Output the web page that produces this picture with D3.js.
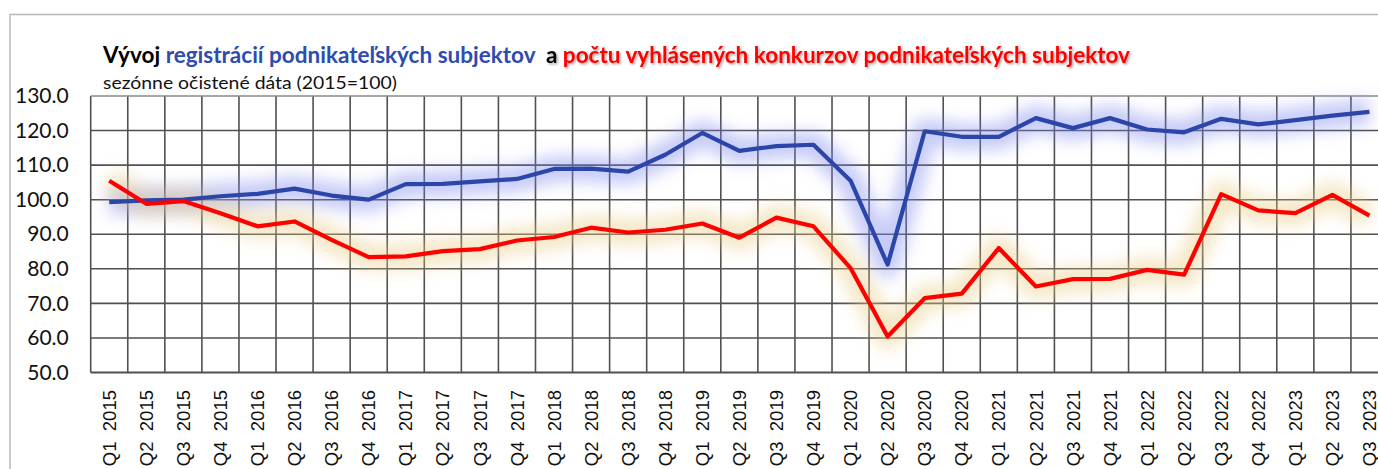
<!DOCTYPE html>
<html>
<head>
<meta charset="utf-8">
<script src="https://cdn.jsdelivr.net/npm/d3@7"></script>
<style>
  html, body { margin: 0; padding: 0; background: #fff; }
  svg { display: block; }
</style>
</head>
<body>
<svg id="chart" width="1378" height="469"></svg>
<script>
// quarters Q1 2015 .. Q3 2023
var quarters = [];
for (var yr = 2015; yr <= 2023; yr++) {
    for (var q = 1; q <= 4; q++) {
        if (yr === 2023 && q > 3) break;
        quarters.push('Q' + q + ' ' + yr);
    }
}

// registrácie podnikateľských subjektov (2015=100)
var registrations = [
    99.3, 99.8, 100.0, 101.0, 101.7, 103.2, 101.2, 100.0,
    104.5, 104.6, 105.3, 106.0, 108.9, 109.0, 108.1, 113.0,
    119.3, 114.1, 115.5, 115.9, 105.5, 81.2, 119.8, 118.2,
    118.2, 123.6, 120.7, 123.6, 120.3, 119.5, 123.4, 121.8,
    123.0, 124.3, 125.4
];

// vyhlásené konkurzy podnikateľských subjektov (2015=100)
var bankruptcies = [
    105.5, 98.8, 99.6, 96.1, 92.3, 93.7, 88.4, 83.4,
    83.6, 85.1, 85.7, 88.2, 89.2, 91.9, 90.5, 91.3,
    93.1, 89.0, 94.8, 92.3, 80.2, 60.4, 71.5, 72.8,
    86.0, 74.9, 77.0, 77.1, 79.7, 78.3, 101.6, 96.9,
    96.1, 101.4, 95.4
];

var yTicks = [50, 60, 70, 80, 90, 100, 110, 120, 130];

var svg = d3.select('#chart');
var plot = {left: 90.7, right: 1388, top: 96, bottom: 372.5};

var x = d3.scaleBand().domain(quarters).range([plot.left, plot.right]);
var y = d3.scaleLinear().domain([50, 130]).range([plot.bottom, plot.top]);

var defs = svg.append('defs');
defs.append('filter').attr('id', 'glow')
    .attr('x', '-10%').attr('y', '-50%').attr('width', '120%').attr('height', '200%')
    .append('feGaussianBlur').attr('stdDeviation', 8);
var shadow = defs.append('filter').attr('id', 'tshadow')
    .attr('x', '-5%').attr('y', '-30%').attr('width', '110%').attr('height', '160%');
shadow.append('feDropShadow').attr('dx', 1.5).attr('dy', 1.5)
    .attr('stdDeviation', 1.2).attr('flood-color', '#000').attr('flood-opacity', 0.35);

// outer chart border (top + left)
svg.append('path')
    .attr('d', 'M10,469V14.5H1378')
    .attr('fill', 'none').attr('stroke', '#b8b8b8').attr('stroke-width', 1.5);

// grid
var grid = svg.append('g').attr('stroke', '#505050').attr('stroke-width', 1.6);
grid.selectAll('line.v').data(quarters.concat(['end'])).enter().append('line')
    .attr('x1', function(d, i) { return plot.left + i * x.step(); })
    .attr('x2', function(d, i) { return plot.left + i * x.step(); })
    .attr('y1', plot.top).attr('y2', plot.bottom);
grid.selectAll('line.h').data(yTicks).enter().append('line')
    .attr('x1', plot.left).attr('x2', plot.right)
    .attr('y1', function(d) { return y(d); }).attr('y2', function(d) { return y(d); })
    .attr('stroke', function(d) { return d === 130 ? '#8a8a8a' : '#505050'; })
    .attr('stroke-width', function(d) { return d === 50 ? 2.2 : 1.6; });

// y axis labels
var yAxis = d3.axisLeft(y).tickValues(yTicks).tickFormat(d3.format('.1f')).tickSize(0).tickPadding(22);
svg.append('g').attr('transform', 'translate(' + plot.left + ',0)').call(yAxis)
    .call(function(g) { g.select('.domain').remove(); })
    .selectAll('text')
    .attr('font-family', 'Lato, "Open Sans", sans-serif')
    .attr('font-size', 21).attr('fill', '#111');

// x axis labels (rotated)
svg.append('g').selectAll('text').data(quarters).enter().append('text')
    .attr('transform', function(d) {
        return 'translate(' + (x(d) + x.bandwidth() / 2) + ',390) rotate(-90)';
    })
    .attr('text-anchor', 'end').attr('dy', '0.36em')
    .attr('font-family', '"Liberation Sans", Arial, sans-serif')
    .attr('font-size', 18.5).attr('fill', '#111')
    .text(function(d) { return d.replace(' ', '\u00a0\u00a0'); });

var line = d3.line()
    .x(function(d, i) { return x(quarters[i]) + x.bandwidth() / 2; })
    .y(function(d) { return y(d); });

var series = [
    {values: registrations, color: '#2b45a8', glow: 'rgba(120,130,235,0.42)'},
    {values: bankruptcies, color: '#ff0000', glow: 'rgba(232,205,130,0.45)'}
];

series.forEach(function(s) {
    svg.append('path').datum(s.values).attr('d', line)
        .attr('fill', 'none').attr('stroke', s.glow).attr('stroke-width', 26)
        .attr('stroke-linejoin', 'round').attr('filter', 'url(#glow)');
});
series.forEach(function(s) {
    svg.append('path').datum(s.values).attr('d', line)
        .attr('fill', 'none').attr('stroke', s.color).attr('stroke-width', 4.2)
        .attr('stroke-linejoin', 'round');
});

// title
var title = svg.append('text').attr('x', 103).attr('y', 63)
    .attr('font-family', 'Lato, "Open Sans", sans-serif')
    .attr('font-weight', 'bold').attr('font-size', 22)
    .attr('textLength', 1027).attr('lengthAdjust', 'spacingAndGlyphs');
title.append('tspan').attr('fill', '#000').text('Vývoj ');
title.append('tspan').attr('fill', '#2e4cb0').text('registrácií podnikateľských subjektov ');
title.append('tspan').attr('fill', '#000').attr('filter', 'url(#tshadow)').text('\u00a0a ');
title.append('tspan').attr('fill', '#ff0000').attr('filter', 'url(#tshadow)')
    .text('počtu vyhlásených konkurzov podnikateľských subjektov');

svg.append('text').attr('x', 103).attr('y', 89)
    .attr('font-family', 'Lato, "Open Sans", sans-serif')
    .attr('font-size', 18).attr('fill', '#111')
    .attr('textLength', 294).attr('lengthAdjust', 'spacingAndGlyphs')
    .text('sezónne očistené dáta (2015=100)');
</script>
</body>
</html>
